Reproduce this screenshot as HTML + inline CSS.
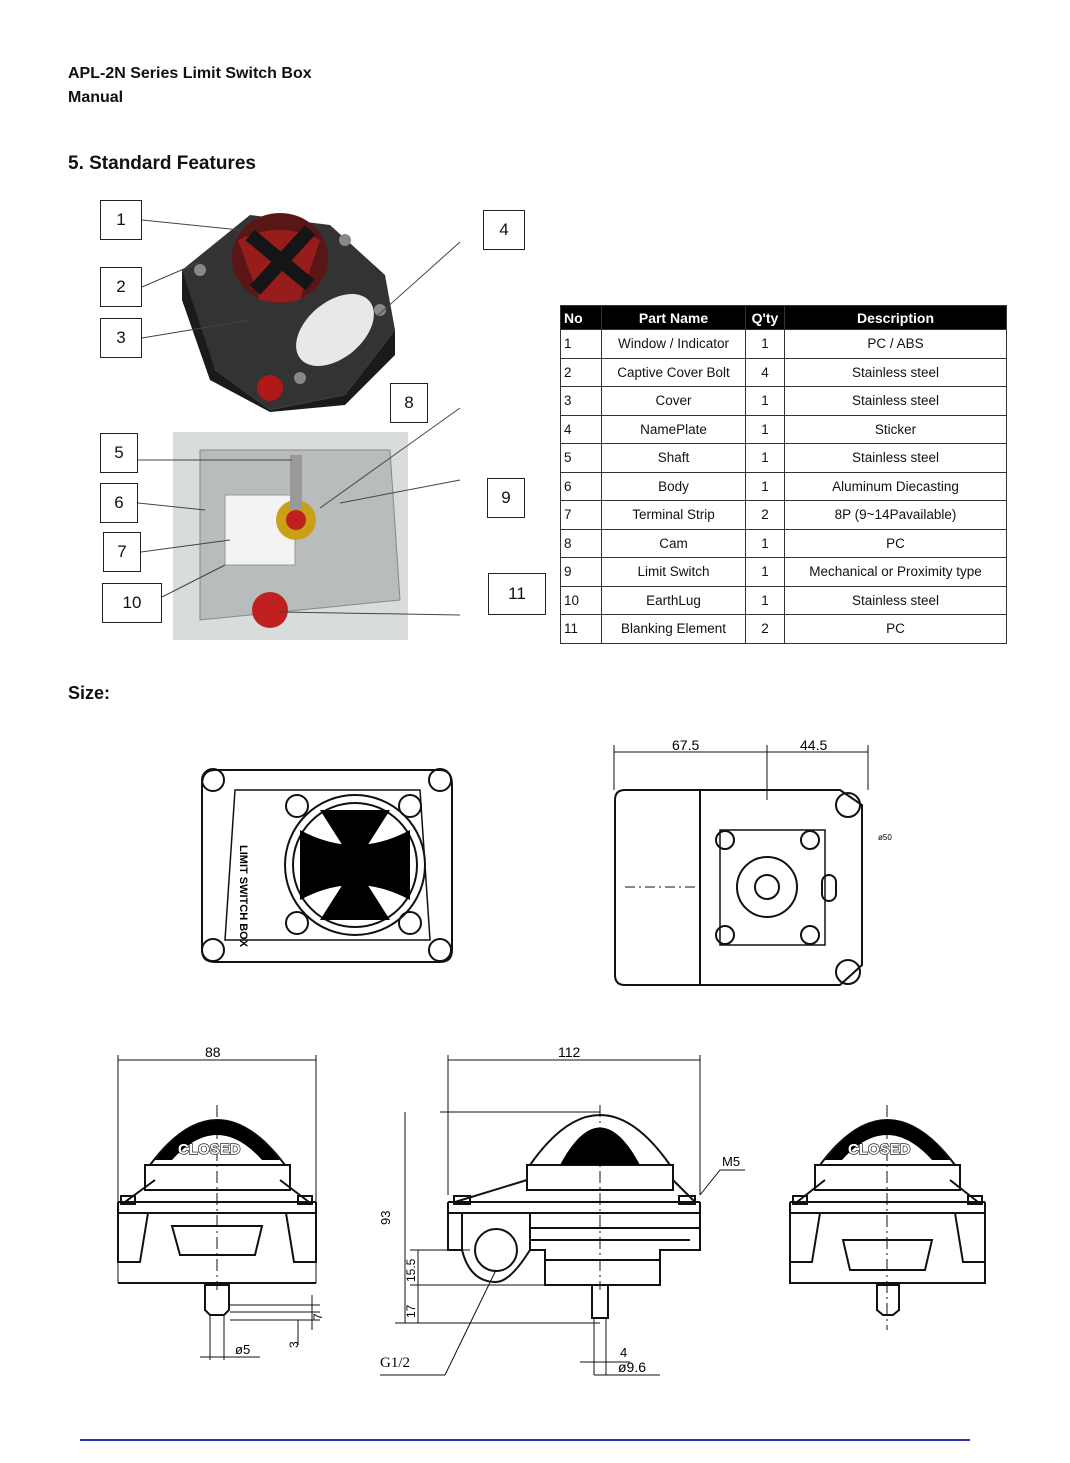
<!DOCTYPE html>
<html><head><meta charset="utf-8"><style>
body{margin:0;background:#fff;width:1070px;height:1463px;position:relative;overflow:hidden;font-family:"Liberation Sans",sans-serif;color:#111}
.t{position:absolute;font-weight:bold}
.nb{position:absolute;border:1.5px solid #222;background:#fff;font-size:17px;display:flex;align-items:center;justify-content:center}
table{position:absolute;left:560px;top:305px;width:447px;border-collapse:collapse;font-size:13.5px}
td{border:1px solid #333;height:27.5px;padding:0;text-align:center}
td:first-child{text-align:left;padding-left:3px}
tr.h td{background:#000;color:#fff;font-weight:bold;height:23px;font-size:14px}
svg{position:absolute;left:0;top:0}
</style></head><body>
<div class="t" style="left:68px;top:62px;font-size:16px;line-height:24px">APL-2N Series Limit Switch Box<br>Manual</div>
<div class="t" style="left:68px;top:153px;font-size:19px">5. Standard Features</div>
<div class="t" style="left:68px;top:683px;font-size:18px">Size:</div>
<svg width="1070" height="1463" viewBox="0 0 1070 1463">
<!-- photos -->
<rect x="173" y="432" width="235" height="208" fill="#d9dcdc"/>
<path d="M200 450 L390 450 L400 600 L200 620 Z" fill="#b8bcbc" stroke="#888"/>
<rect x="225" y="495" width="70" height="70" fill="#f2f2f2" stroke="#999"/>
<circle cx="296" cy="520" r="20" fill="#c9a017"/><circle cx="296" cy="520" r="10" fill="#c02020"/>
<rect x="290" y="455" width="12" height="55" fill="#999"/>
<circle cx="270" cy="610" r="18" fill="#c02020"/>
<path d="M182 270 L250 215 L330 225 L385 275 L395 330 L345 395 L270 410 L215 370 L190 320 Z" fill="#333"/>
<path d="M182 270 L215 370 L270 410 L345 395 L395 330 L395 355 L345 405 L270 412 L210 380 L182 300 Z" fill="#1a1a1a"/>
<ellipse cx="280" cy="258" rx="48" ry="45" fill="#5a1515"/>
<path d="M238 240 Q280 220 320 240 L300 300 Q280 305 260 300 Z" fill="#b02020" opacity=".7"/>
<path d="M250 235 L310 285 M310 230 L255 290" stroke="#151515" stroke-width="14"/>
<ellipse cx="335" cy="330" rx="45" ry="28" fill="#e8e8e8" transform="rotate(-40 335 330)"/>
<circle cx="270" cy="388" r="13" fill="#b01818"/>
<circle cx="200" cy="270" r="6" fill="#888"/><circle cx="345" cy="240" r="6" fill="#888"/><circle cx="380" cy="310" r="6" fill="#888"/><circle cx="300" cy="378" r="6" fill="#888"/>
<!-- leader lines -->
<g stroke="#444" stroke-width="1" fill="none">
<line x1="142" y1="220" x2="240" y2="230"/><line x1="142" y1="287" x2="200" y2="262"/><line x1="142" y1="338" x2="250" y2="320"/>
<line x1="460" y1="242" x2="375" y2="318"/><line x1="138" y1="460" x2="292" y2="460"/><line x1="138" y1="503" x2="205" y2="510"/>
<line x1="141" y1="552" x2="230" y2="540"/><line x1="162" y1="597" x2="225" y2="565"/>
<line x1="460" y1="408" x2="320" y2="508"/><line x1="460" y1="480" x2="340" y2="503"/><line x1="460" y1="615" x2="280" y2="612"/>
</g>
<!-- top view left -->
<g stroke="#111" stroke-width="2" fill="none">
<path d="M215 770 L440 770 Q452 770 452 785 L452 950 Q452 962 440 962 L215 962 Q202 962 202 950 L202 785 Q202 770 215 770 Z"/>
<path d="M235 790 L420 790 L430 940 L225 940 Z" stroke-width="1.5"/>
<circle cx="213" cy="780" r="11"/><circle cx="440" cy="780" r="11"/><circle cx="213" cy="950" r="11"/><circle cx="440" cy="950" r="11"/>
<circle cx="355" cy="865" r="70"/><circle cx="355" cy="865" r="62"/>
<circle cx="297" cy="806" r="11"/><circle cx="410" cy="806" r="11"/><circle cx="297" cy="923" r="11"/><circle cx="410" cy="923" r="11"/>
</g>
<path d="M300 830 Q355 860 410 830 L410 900 Q355 870 300 900 Z" fill="#000"/>
<path d="M320 810 L390 810 L355 865 Z M320 920 L390 920 L355 865 Z" fill="#000"/>
<text x="225" y="870" font-size="11" font-weight="bold" transform="rotate(90 245 865)">LIMIT SWITCH BOX</text>
<!-- top view right -->
<g stroke="#111" stroke-width="2" fill="none">
<path d="M625 790 L840 790 L862 805 L862 965 L840 985 L625 985 Q615 985 615 975 L615 800 Q615 790 625 790 Z"/>
<line x1="700" y1="790" x2="700" y2="985"/>
<circle cx="848" cy="805" r="12"/><circle cx="848" cy="972" r="12"/>
<path d="M720 830 L825 830 L825 945 L720 945 Z" stroke-width="1.5"/>
<circle cx="767" cy="887" r="30"/><circle cx="767" cy="887" r="12"/>
<circle cx="725" cy="840" r="9"/><circle cx="810" cy="840" r="9"/><circle cx="725" cy="935" r="9"/><circle cx="810" cy="935" r="9"/>
<rect x="822" y="875" width="14" height="26" rx="7"/>
<line x1="614" y1="752" x2="868" y2="752" stroke-width="1"/><line x1="614" y1="745" x2="614" y2="790" stroke-width="1"/><line x1="868" y1="745" x2="868" y2="790" stroke-width="1"/><line x1="767" y1="745" x2="767" y2="800" stroke-width="1"/>
<line x1="625" y1="887" x2="700" y2="887" stroke-width="1" stroke-dasharray="10 4 2 4"/>
</g>
<text x="672" y="750" font-size="14">67.5</text><text x="800" y="750" font-size="14">44.5</text><text x="878" y="840" font-size="8">ø50</text>
<!-- front views -->
<g stroke="#111" stroke-width="1" fill="none">
<!-- left -->
<line x1="118" y1="1060" x2="316" y2="1060"/><line x1="118" y1="1055" x2="118" y2="1283"/><line x1="316" y1="1055" x2="316" y2="1283"/>
<line x1="217" y1="1105" x2="217" y2="1290" stroke-dasharray="12 4 2 4"/>
<g stroke-width="2">
<path d="M118 1202 L316 1202 M118 1213 L316 1213 M118 1283 L316 1283"/>
<path d="M118 1202 L118 1262 Q118 1262 140 1262 L148 1213"/><path d="M316 1202 L316 1262 L294 1262 L286 1213"/>
<path d="M172 1226 L262 1226 L255 1255 L180 1255 Z"/>
<path d="M145 1165 L290 1165 L290 1190 L145 1190 Z"/>
<path d="M125 1202 L155 1180 M309 1202 L280 1180"/>
<rect x="121" y="1196" width="14" height="8"/><rect x="298" y="1196" width="14" height="8"/>
<path d="M150 1165 Q217 1075 285 1165"/>
<path d="M205 1285 L229 1285 L229 1310 L224 1315 L210 1315 L205 1310 Z"/>
</g>
<path d="M230 1305 L320 1305 M230 1312 L320 1312 M230 1320 L320 1320 M312 1295 L312 1330 M298 1320 L298 1345"/>
<path d="M210 1315 L210 1360 M224 1315 L224 1360 M200 1357 L260 1357"/>
<!-- middle -->
<line x1="448" y1="1060" x2="700" y2="1060"/><line x1="448" y1="1055" x2="448" y2="1195"/><line x1="700" y1="1055" x2="700" y2="1195"/>
<line x1="600" y1="1105" x2="600" y2="1290" stroke-dasharray="12 4 2 4"/>
<g stroke-width="2">
<path d="M448 1202 L700 1202 M448 1213 L700 1213"/>
<path d="M448 1202 L448 1250 L462 1250 L462 1213"/>
<path d="M700 1202 L700 1250 L660 1250 L660 1285 L545 1285 L545 1250 L530 1250"/>
<path d="M530 1213 L530 1250 Q510 1282 496 1282 Q470 1282 462 1250"/>
<path d="M530 1228 L700 1228 M530 1240 L690 1240"/>
<path d="M545 1260 L660 1260"/>
<path d="M527 1165 L673 1165 L673 1190 L527 1190 Z"/>
<path d="M455 1202 L527 1180 M695 1202 L673 1180"/>
<rect x="454" y="1196" width="16" height="8"/><rect x="679" y="1196" width="16" height="8"/>
<path d="M530 1165 Q600 1065 670 1165"/>
<circle cx="496" cy="1250" r="21"/>
<path d="M592 1285 L608 1285 L608 1318 L592 1318 Z"/>
</g>
<path d="M440 1112 L600 1112 M405 1112 L405 1323 M395 1323 L600 1323 M410 1250 L470 1250 M410 1285 L545 1285 M418 1250 L418 1323"/>
<path d="M445 1375 L496 1270 M380 1375 L445 1375"/>
<path d="M594 1318 L594 1375 M606 1318 L606 1375 M580 1362 L630 1362 M594 1375 L660 1375"/>
<path d="M700 1195 L720 1170 L745 1170"/>
<!-- right -->
<line x1="887" y1="1105" x2="887" y2="1330" stroke-dasharray="12 4 2 4"/>
<g stroke-width="2">
<path d="M790 1202 L985 1202 M790 1213 L985 1213 M790 1202 L790 1283 L985 1283 L985 1202"/>
<path d="M790 1262 L812 1262 L820 1213 M985 1262 L963 1262 L955 1213"/>
<path d="M843 1240 L932 1240 L925 1270 L850 1270 Z"/>
<path d="M815 1165 L960 1165 L960 1190 L815 1190 Z"/>
<path d="M797 1202 L825 1180 M978 1202 L950 1180"/>
<rect x="793" y="1196" width="14" height="8"/><rect x="968" y="1196" width="14" height="8"/>
<path d="M820 1165 Q887 1075 955 1165"/>
<path d="M877 1285 L899 1285 L899 1310 L893 1315 L883 1315 L877 1310 Z"/>
</g>
</g>
<path d="M560 1165 Q600 1090 640 1165 Z" fill="#000"/>
<path d="M155 1160 Q217 1080 280 1160 L262 1160 Q217 1110 172 1160 Z" fill="#000"/>
<path d="M825 1160 Q887 1080 950 1160 L932 1160 Q887 1110 842 1160 Z" fill="#000"/>
<text x="178" y="1154" font-size="15" font-weight="bold" fill="#fff" stroke="#000" stroke-width="1.2" paint-order="stroke">CLOSED</text>
<text x="848" y="1154" font-size="15" font-weight="bold" fill="#fff" stroke="#000" stroke-width="1.2" paint-order="stroke">CLOSED</text>
<text x="205" y="1057" font-size="14">88</text><text x="558" y="1057" font-size="14">112</text><text x="722" y="1166" font-size="13">M5</text>
<text x="380" y="1367" font-size="15" font-family="Liberation Serif">G1/2</text><text x="235" y="1354" font-size="13">ø5</text><text x="618" y="1372" font-size="14">ø9.6</text><text x="620" y="1357" font-size="13">4</text>
<text x="390" y="1225" font-size="13" transform="rotate(-90 390 1225)">93</text>
<text x="322" y="1320" font-size="12" transform="rotate(-90 322 1320)">7</text>
<text x="298" y="1348" font-size="12" transform="rotate(-90 298 1348)">3</text>
<text x="415" y="1318" font-size="12" transform="rotate(-90 415 1318)">17</text>
<text x="415" y="1282" font-size="12" transform="rotate(-90 415 1282)">15.5</text>
<line x1="80" y1="1440" x2="970" y2="1440" stroke="#3030b0" stroke-width="2"/>
</svg>
<div class="nb" style="left:100px;top:200px;width:40px;height:38px">1</div>
<div class="nb" style="left:100px;top:267px;width:40px;height:38px">2</div>
<div class="nb" style="left:100px;top:318px;width:40px;height:38px">3</div>
<div class="nb" style="left:483px;top:210px;width:40px;height:38px">4</div>
<div class="nb" style="left:100px;top:433px;width:36px;height:38px">5</div>
<div class="nb" style="left:100px;top:483px;width:36px;height:38px">6</div>
<div class="nb" style="left:103px;top:532px;width:36px;height:38px">7</div>
<div class="nb" style="left:390px;top:383px;width:36px;height:38px">8</div>
<div class="nb" style="left:487px;top:478px;width:36px;height:38px">9</div>
<div class="nb" style="left:102px;top:583px;width:58px;height:38px">10</div>
<div class="nb" style="left:488px;top:573px;width:56px;height:40px">11</div>
<table>
<tr class="h"><td style="width:37px">No</td><td style="width:143px">Part Name</td><td style="width:38px">Q'ty</td><td>Description</td></tr>
<tr><td>1</td><td>Window / Indicator</td><td>1</td><td>PC / ABS</td></tr>
<tr><td>2</td><td>Captive Cover Bolt</td><td>4</td><td>Stainless steel</td></tr>
<tr><td>3</td><td>Cover</td><td>1</td><td>Stainless steel</td></tr>
<tr><td>4</td><td>NamePlate</td><td>1</td><td>Sticker</td></tr>
<tr><td>5</td><td>Shaft</td><td>1</td><td>Stainless steel</td></tr>
<tr><td>6</td><td>Body</td><td>1</td><td>Aluminum Diecasting</td></tr>
<tr><td>7</td><td>Terminal Strip</td><td>2</td><td>8P (9~14Pavailable)</td></tr>
<tr><td>8</td><td>Cam</td><td>1</td><td>PC</td></tr>
<tr><td>9</td><td>Limit Switch</td><td>1</td><td style="white-space:nowrap">Mechanical or Proximity type</td></tr>
<tr><td>10</td><td>EarthLug</td><td>1</td><td>Stainless steel</td></tr>
<tr><td>11</td><td>Blanking Element</td><td>2</td><td>PC</td></tr>
</table>
</body></html>
